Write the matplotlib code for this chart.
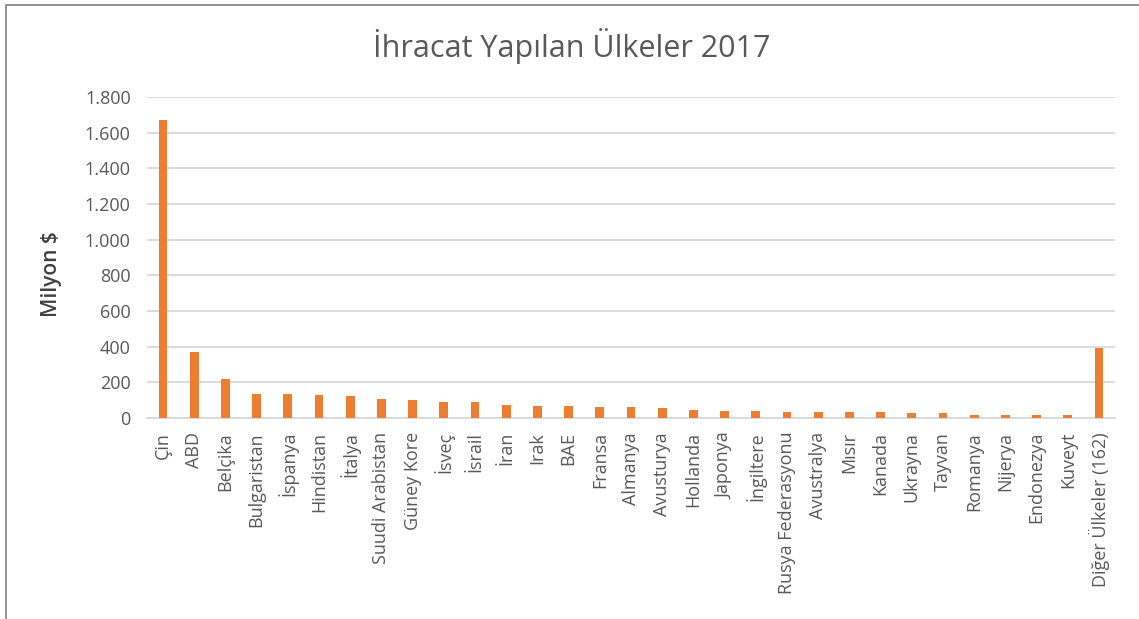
import matplotlib
matplotlib.use('Agg')
import matplotlib.pyplot as plt
from matplotlib.patches import Rectangle
import numpy as np

plt.rcParams['font.family'] = ['Open Sans', 'DejaVu Sans']

# data (milyon $)
ulkeler = ['Çin', 'ABD', 'Belçika', 'Bulgaristan', 'İspanya', 'Hindistan',
           'İtalya', 'Suudi Arabistan', 'Güney Kore', 'İsveç', 'İsrail',
           'İran', 'Irak', 'BAE', 'Fransa', 'Almanya', 'Avusturya',
           'Hollanda', 'Japonya', 'İngiltere', 'Rusya Federasyonu',
           'Avustralya', 'Mısır', 'Kanada', 'Ukrayna', 'Tayvan', 'Romanya',
           'Nijerya', 'Endonezya', 'Kuveyt', 'Diğer Ülkeler (162)']
ihracat = [1670, 370, 216, 137, 137, 131, 124, 109, 103, 88, 88,
           75, 67, 67, 60, 60, 54, 47, 41, 41, 34,
           34, 34, 34, 26, 26, 19, 19, 19, 19, 395]
y_ticks = [0, 200, 400, 600, 800, 1000, 1200, 1400, 1600, 1800]
y_labels = ['0', '200', '400', '600', '800', '1.000', '1.200', '1.400',
            '1.600', '1.800']

W, H = 1139, 619
fig = plt.figure(figsize=(W / 100, H / 100), dpi=100)
fig.patch.set_facecolor('white')

# chart frame (cropped at right and bottom)
fig.patches.append(Rectangle((5.5 / W, -0.1), 1.2, 1.1 - 4.5 / H,
                             transform=fig.transFigure, fill=False,
                             edgecolor='#7f7f7f', lw=1.2))

ax = fig.add_axes([147.4 / W, (H - 418) / H, (1114.6 - 147.4) / W, 321 / H])
x = np.arange(len(ulkeler))
ax.bar(x, ihracat, width=0.28, color='#ed7d31', zorder=3)

ax.set_xlim(-0.5, len(ulkeler) - 0.5)
ax.set_ylim(0, 1800)
ax.set_yticks(y_ticks)
ax.set_yticklabels(y_labels)
ax.yaxis.grid(True, color='#d9d9d9', lw=1.3, zorder=0)
ax.set_axisbelow(True)
for s in ['top', 'right', 'left']:
    ax.spines[s].set_visible(False)
ax.spines['bottom'].set_color('#d9d9d9')
ax.spines['bottom'].set_linewidth(1.3)

ax.set_xticks(x)
ax.set_xticklabels(ulkeler, rotation=90, va='top', ha='center')
ax.tick_params(axis='both', length=0, labelsize=13, labelcolor='#595959')
ax.tick_params(axis='x', pad=10)
ax.tick_params(axis='y', pad=12)

fig.text(572 / W, 1 - 46 / H, 'İhracat Yapılan Ülkeler 2017', ha='center',
         va='center', fontsize=22, color='#595959')
fig.text(52 / W, 1 - 274 / H, 'Milyon $', rotation=90, ha='center',
         va='center', fontsize=15, color='#404040', fontweight='semibold')

fig.savefig('out.png', dpi=100, facecolor='white')
